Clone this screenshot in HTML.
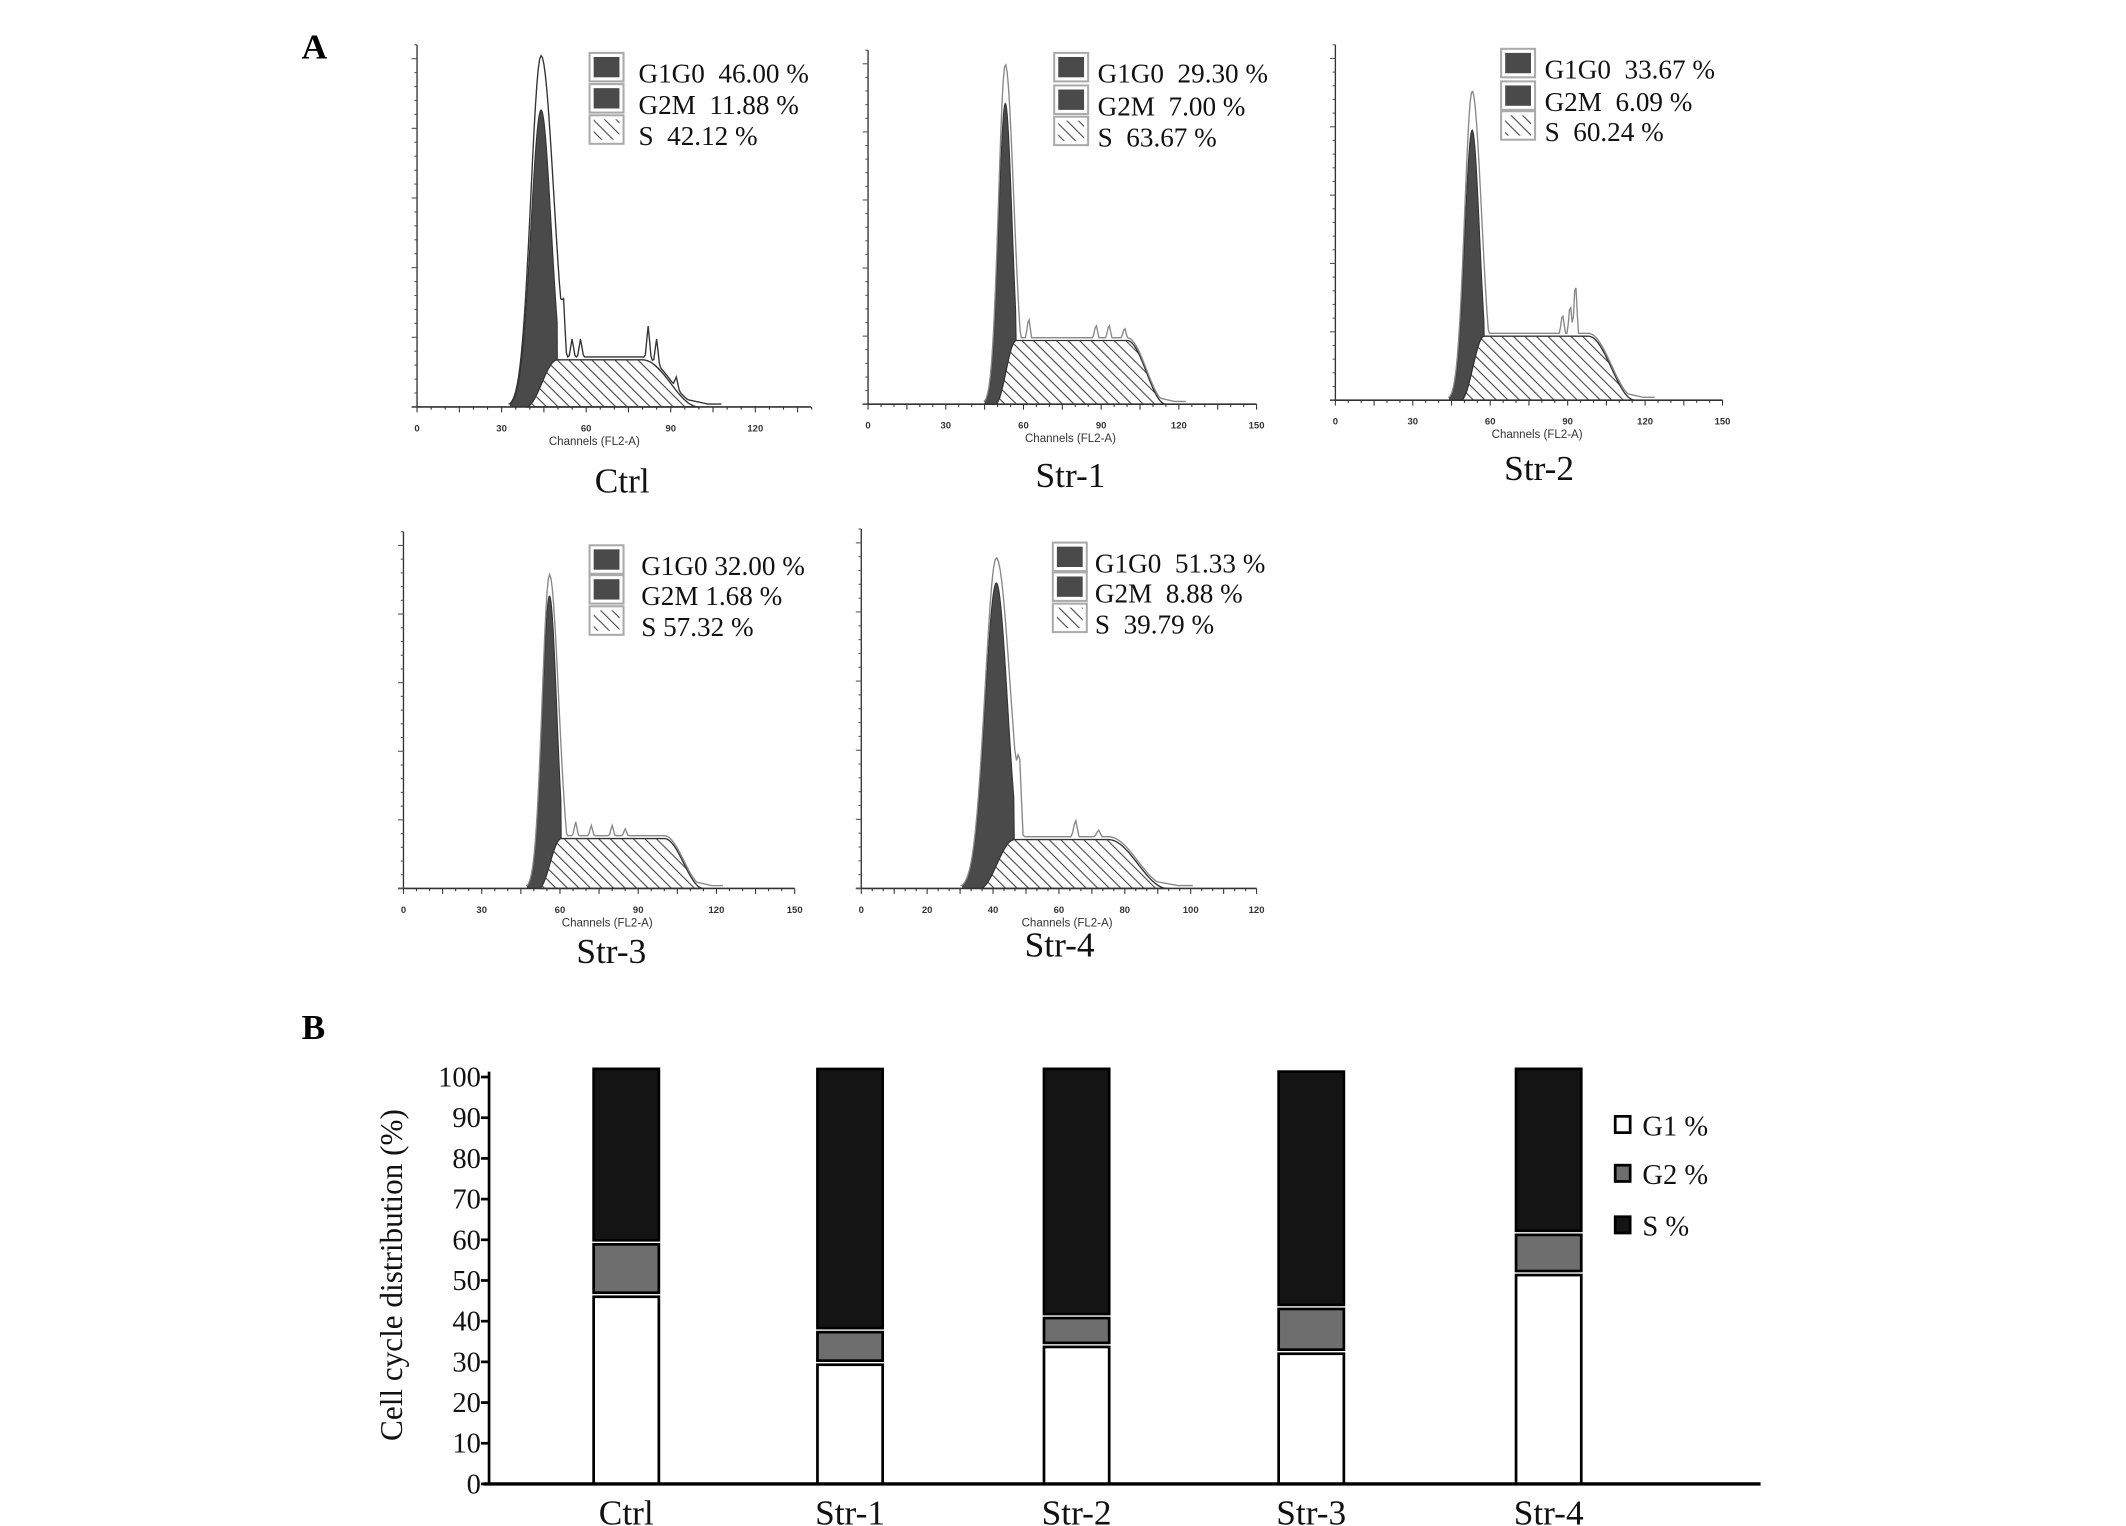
<!DOCTYPE html>
<html><head><meta charset="utf-8">
<style>
html,body{margin:0;padding:0;background:#fff;}
svg{display:block;}
.serif{font-family:"Liberation Serif",serif;}
.sans{font-family:"Liberation Sans",sans-serif;}
text{white-space:pre;}
</style></head>
<body>
<svg id="fig" width="2126" height="1526" viewBox="0 0 1565 1125" preserveAspectRatio="none" xmlns="http://www.w3.org/2000/svg">
<defs>
<pattern id="hatch" patternUnits="userSpaceOnUse" width="6" height="6" patternTransform="rotate(-45)">
<rect width="6" height="6" fill="#fff"/><line x1="0" y1="0" x2="0" y2="6" stroke="#444" stroke-width="1.6"/>
</pattern>
</defs>
<text x="222" y="43" class="serif" font-size="26" font-weight="bold">A</text>
<text x="222" y="766" class="serif" font-size="26" font-weight="bold">B</text>
<g id="hists"></g>
<g id="bars"></g>
</svg>
<script>
const NS='http://www.w3.org/2000/svg';
function mk(tag,attrs,parent){const e=document.createElementNS(NS,tag);for(const k in attrs)e.setAttribute(k,attrs[k]);parent.appendChild(e);return e;}

// ---------- Histogram panel data ----------
const histNames=['Ctrl','Str-1','Str-2','Str-3','Str-4'];
const histG1=['46.00','29.30','33.67','32.00','51.33'];
const histG2=['11.88','7.00','6.09','1.68','8.88'];
const histS=['42.12','63.67','60.24','57.32','39.79'];
const histXMax=[140,150,150,150,120];
const histTickStep=[30,30,30,30,20];
const histPeakCh=[44,53,53,56,41];
const histPeakRaw=[0.97,0.96,0.87,0.88,0.92];
const histPeakFill=[0.82,0.85,0.76,0.82,0.85];
const histSigma=[3.6,2.6,2.9,2.8,3.4];
const histSPlateau=[0.13,0.18,0.18,0.14,0.136];
const histSFlatEnd=[80,100,98,100,75];
const histSEnd=[100,115,116,115,93];
const histBumpCh=[[52,55,58,82,85,92],[62,88,93,99],[88,91,93],[66,72,80,85],[48,65,72]];
const histBumpH=[[0.10,0.05,0.05,0.09,0.07,0.03],[0.06,0.04,0.04,0.03],[0.06,0.09,0.16],[0.04,0.03,0.03,0.02],[0.15,0.05,0.02]];

const histBox=[
 {x0:307,x1:597,top:33,base:300,lx:435,ly:44,ty:[55,78,101],tx:470,title:[458,363]},
 {x0:639,x1:925,top:37,base:298,lx:777,ly:44,ty:[55,79,102],tx:808,title:[788,359]},
 {x0:983,x1:1268,top:33,base:295,lx:1106,ly:42,ty:[52,76,98],tx:1137,title:[1133,354]},
 {x0:297,x1:585,top:392,base:655,lx:435,ly:407,ty:[418,440,463],tx:472,title:[450,710]},
 {x0:634,x1:925,top:390,base:655,lx:776,ly:405,ty:[416,438,461],tx:806,title:[780,705]}
];
const hg=document.getElementById('hists');
histNames.forEach((nm,i)=>{
 const b=histBox[i];
 const g=mk('g',{},hg);
 
 
 const xMaxTick=histXMax[i]===140?120:histXMax[i];
 const pxPerCh=(i===0)?(249/120):((b.x1-b.x0)/histXMax[i]);
 const X=c=>b.x0+c*pxPerCh;
 const H=b.base-b.top;
 const Y=v=>b.base-v*H;
 const pk=histPeakCh[i],sg=histSigma[i];
 const sStart=pk+sg*1.6;
 const g1=c=>histPeakFill[i]*Math.exp(-((c-pk)**2)/(2*sg*sg));
 const sv=c=>{const p=histSPlateau[i];
   if(c<pk-sg*1.5)return 0;
   if(c<sStart){const t=(c-(pk-sg*1.5))/(sStart-(pk-sg*1.5));return p*(1-Math.cos(t*Math.PI))/2;}
   if(c<=histSFlatEnd[i])return p;
   if(c<histSEnd[i]){const t=(c-histSFlatEnd[i])/(histSEnd[i]-histSFlatEnd[i]);return p*(1+Math.cos(t*Math.PI))/2;}
   return 0;};
 let d='M'+X(pk-sg*1.5)+','+b.base;
 for(let c=pk-sg*1.5;c<=histSEnd[i];c+=0.5)d+=' L'+X(c)+','+Y(sv(c));
 d+=' L'+X(histSEnd[i])+','+b.base+' Z';
 const sp=mk('path',{d:d,fill:'url(#hatch)',stroke:'#333','stroke-width':1},g);
 
 
 let d2='M'+X(pk-sg*3)+','+b.base;
 for(let c=pk-sg*3;c<=sStart;c+=0.25)d2+=' L'+X(c)+','+Y(Math.max(g1(c),sv(c)));
 d2+=' L'+X(sStart)+','+Y(sv(sStart));
 for(let c=sStart;c>=pk-sg*3;c-=0.25)d2+=' L'+X(c)+','+Y(sv(c));
 d2+=' Z';
 const gp=mk('path',{d:d2,fill:'#4a4a4a',stroke:'#333','stroke-width':0.8},g);
 
 
 const ratio=histPeakRaw[i]/histPeakFill[i];
 let d3='';
 for(let c=pk-sg*3.2;c<=histSEnd[i]+8;c+=0.5){
   let v=Math.max(g1(c)*ratio,0);
   if(c>pk) v=histPeakRaw[i]*Math.exp(-((c-pk)**2)/(2*(sg*1.25)**2));
   v=Math.max(v,sv(c)+0.008);
   if(c>histSEnd[i]-4)v=Math.max(v,0.02*Math.max(0,1-(c-histSEnd[i]+4)/12));
   histBumpCh[i].forEach((bc,k)=>{if(Math.abs(c-bc)<1.1)v+=histBumpH[i][k]*(1-Math.abs(c-bc)/1.1);});
   d3+=(d3?' L':'M')+X(c)+','+Y(v);
 }
 const rl=mk('path',{d:d3,fill:'none',stroke:i===0?'#333':'#888','stroke-width':1},g);
 
 
 const ax=mk('line',{x1:b.x0,y1:b.top,x2:b.x0,y2:b.base,stroke:'#333','stroke-width':1},g);
 
 
 const xa=mk('line',{x1:b.x0-4,y1:b.base,x2:b.x1,y2:b.base,stroke:'#333','stroke-width':1.2},g);
 
 
 for(let k=0;k<=26;k++){const yy=b.base-k*H/26;mk('line',{x1:b.x0-(k%5===0?4:2),y1:yy,x2:b.x0,y2:yy,stroke:'#555','stroke-width':0.8},g);}
 const minor=histTickStep[i]/6;
 for(let c=0;c<=histXMax[i]+0.01;c+=minor){mk('line',{x1:X(c),y1:b.base,x2:X(c),y2:b.base+((Math.round(c/minor))%3===0?4:2),stroke:'#333','stroke-width':0.8},g);}
 for(let c=0;c<=xMaxTick;c+=histTickStep[i]){
   const t=mk('text',{x:X(c),y:b.base+18,'text-anchor':'middle','font-size':7,class:'sans','font-weight':'bold',fill:'#333'},g);
   t.textContent=c;
   
   
 }
 const xt=mk('text',{x:X(histXMax[i]===120?60:xMaxTick/2)+6,y:b.base+28,'text-anchor':'middle','font-size':8.5,class:'sans',fill:'#333'},g);
 xt.textContent='Channels (FL2-A)';
 
 
 const labs=['G1G0  '+histG1[i]+' %','G2M  '+histG2[i]+' %','S  '+histS[i]+' %'];
 if(i===3){labs[0]='G1G0 '+histG1[i]+' %';labs[1]='G2M '+histG2[i]+' %';labs[2]='S '+histS[i]+' %';}
 labs.forEach((s,k)=>{
   const yy=b.ty[k]-15;
   mk('rect',{x:b.lx-1,y:yy-1,width:25,height:21,fill:'none',stroke:'#aaa','stroke-width':1.5},g);
   const r=mk('rect',{x:b.lx+2,y:yy+2,width:19,height:15,fill:k<2?'#4a4a4a':'url(#hatch)'},g);
   
   
   const t=mk('text',{x:b.tx,y:b.ty[k]+6,'font-size':20,class:'serif',fill:'#111'},g);
   t.textContent=s;
   
   
 });
 const tt=mk('text',{x:b.title[0],y:b.title[1],'text-anchor':'middle','font-size':26,class:'serif',fill:'#111'},g);
 tt.textContent=nm;
 
 
});

// ---------- Bar chart (B) ----------
const categories=['Ctrl','Str-1','Str-2','Str-3','Str-4'];
const g1Values=[46,29.3,33.67,32,51.33];
const g2Values=[11.88,7,6.09,10,8.88];
const sValues=[42.12,63.67,60.24,57.32,39.79];
const yTicks=[0,10,20,30,40,50,60,70,80,90,100];
const legendLabels=['G1 %','G2 %','S %'];

const bg=document.getElementById('bars');
const axX0=360,axX1=1296,yBase=1094,y100=794;
const yS=v=>yBase-v*(yBase-y100)/100;
const xNudge=[0,-5,-8,-5,0];
const xC=i=>461+i*((1140-461)/4)+xNudge[i];
const bw=48,gap=1;
const segColors=['#ffffff','#6e6e6e','#141414'];
categories.forEach((c,i)=>{
 let base=0;
 [g1Values[i],g2Values[i],sValues[i]].forEach((v,k)=>{
   const top=base+v;
   const r=mk('rect',{x:xC(i)-bw/2,y:yS(top),width:bw,height:yS(base)-yS(top),fill:segColors[k],stroke:'#000','stroke-width':2},bg);
   
   
   base=top+gap;
 });
 const t=mk('text',{x:xC(i),y:1124,'text-anchor':'middle','font-size':26,class:'serif',fill:'#111'},bg);
 t.textContent=c;
 
 
});
const yax=mk('line',{x1:axX0,y1:790,x2:axX0,y2:yBase,stroke:'#000','stroke-width':2},bg);


const xax=mk('line',{x1:axX0-4,y1:yBase,x2:axX1,y2:yBase,stroke:'#000','stroke-width':2.5},bg);


yTicks.forEach(v=>{
 mk('line',{x1:axX0-6,y1:yS(v),x2:axX0,y2:yS(v),stroke:'#000','stroke-width':2},bg);
 const t=mk('text',{x:axX0-6,y:yS(v)+7,'text-anchor':'end','font-size':21,class:'serif',fill:'#111'},bg);
 t.textContent=v;
 
 
});
const yt=mk('text',{x:0,y:0,transform:'translate(296,940) rotate(-90)','text-anchor':'middle','font-size':23,class:'serif',fill:'#111'},bg);
yt.textContent='Cell cycle distribution (%)';


const legY=[829,865,903];
legendLabels.forEach((s,k)=>{
 const r=mk('rect',{x:1189,y:legY[k]-6,width:11,height:12,fill:segColors[k],stroke:'#000','stroke-width':2},bg);
 
 
 const t=mk('text',{x:1209,y:legY[k]+8,'font-size':21,class:'serif',fill:'#111'},bg);
 t.textContent=s;
 
 
});
</script>
</body></html>
